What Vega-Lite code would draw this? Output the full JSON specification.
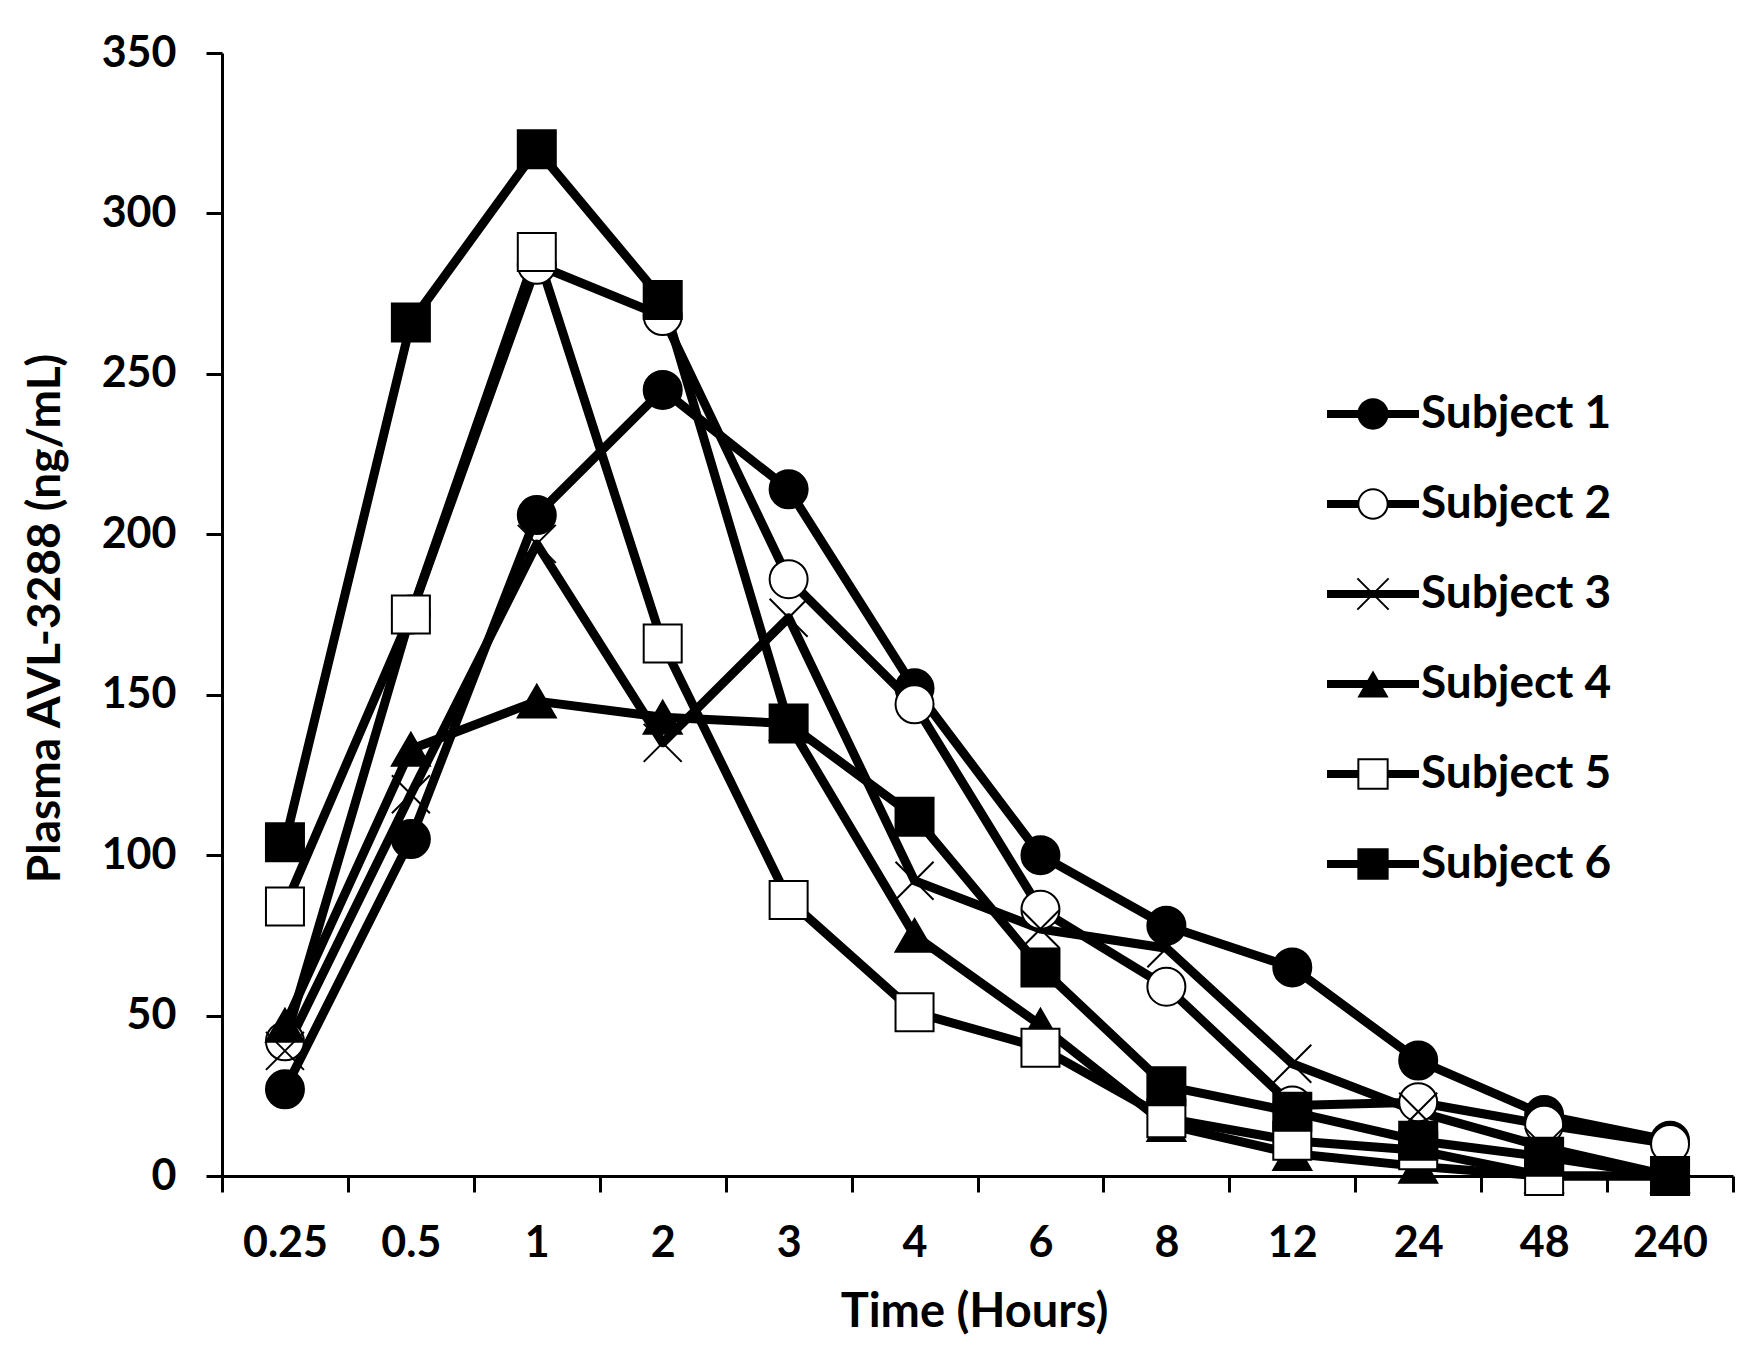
{
  "$schema": "https://vega.github.io/schema/vega-lite/v6.json",
  "width": 1511,
  "height": 1123,
  "autosize": {"type": "none"},
  "padding": {"left": 222, "top": 53, "right": 22, "bottom": 177},
  "background": "white",
  "config": {
    "view": {"stroke": null},
    "font": "Lato",
    "axis": {
      "grid": false,
      "domainColor": "black",
      "domainWidth": 3,
      "tickColor": "black",
      "tickWidth": 3,
      "tickSize": 16,
      "labelColor": "black",
      "labelFont": "Lato",
      "labelFontWeight": "bold",
      "labelFontSize": 43,
      "titleColor": "black",
      "titleFont": "Lato",
      "titleFontWeight": "bold"
    }
  },
  "data": {
    "values": [
      {"s": "Subject 1", "h": 0.25, "v": 27}, {"s": "Subject 1", "h": 0.5, "v": 105}, {"s": "Subject 1", "h": 1, "v": 206}, {"s": "Subject 1", "h": 2, "v": 245}, {"s": "Subject 1", "h": 3, "v": 214}, {"s": "Subject 1", "h": 4, "v": 152}, {"s": "Subject 1", "h": 6, "v": 100}, {"s": "Subject 1", "h": 8, "v": 78}, {"s": "Subject 1", "h": 12, "v": 65}, {"s": "Subject 1", "h": 24, "v": 36}, {"s": "Subject 1", "h": 48, "v": 19}, {"s": "Subject 1", "h": 240, "v": 11},
      {"s": "Subject 2", "h": 0.25, "v": 42}, {"s": "Subject 2", "h": 0.5, "v": 175}, {"s": "Subject 2", "h": 1, "v": 284}, {"s": "Subject 2", "h": 2, "v": 268}, {"s": "Subject 2", "h": 3, "v": 186}, {"s": "Subject 2", "h": 4, "v": 147}, {"s": "Subject 2", "h": 6, "v": 83}, {"s": "Subject 2", "h": 8, "v": 59}, {"s": "Subject 2", "h": 12, "v": 22}, {"s": "Subject 2", "h": 24, "v": 23}, {"s": "Subject 2", "h": 48, "v": 16}, {"s": "Subject 2", "h": 240, "v": 10},
      {"s": "Subject 3", "h": 0.25, "v": 39}, {"s": "Subject 3", "h": 0.5, "v": 119}, {"s": "Subject 3", "h": 1, "v": 197}, {"s": "Subject 3", "h": 2, "v": 135}, {"s": "Subject 3", "h": 3, "v": 174}, {"s": "Subject 3", "h": 4, "v": 92}, {"s": "Subject 3", "h": 6, "v": 77}, {"s": "Subject 3", "h": 8, "v": 71}, {"s": "Subject 3", "h": 12, "v": 35}, {"s": "Subject 3", "h": 24, "v": 20}, {"s": "Subject 3", "h": 48, "v": 9}, {"s": "Subject 3", "h": 240, "v": 0},
      {"s": "Subject 4", "h": 0.25, "v": 47}, {"s": "Subject 4", "h": 0.5, "v": 133}, {"s": "Subject 4", "h": 1, "v": 148}, {"s": "Subject 4", "h": 2, "v": 143}, {"s": "Subject 4", "h": 3, "v": 141}, {"s": "Subject 4", "h": 4, "v": 75}, {"s": "Subject 4", "h": 6, "v": 47}, {"s": "Subject 4", "h": 8, "v": 16}, {"s": "Subject 4", "h": 12, "v": 7}, {"s": "Subject 4", "h": 24, "v": 3}, {"s": "Subject 4", "h": 48, "v": 0}, {"s": "Subject 4", "h": 240, "v": 0},
      {"s": "Subject 5", "h": 0.25, "v": 84}, {"s": "Subject 5", "h": 0.5, "v": 175}, {"s": "Subject 5", "h": 1, "v": 288}, {"s": "Subject 5", "h": 2, "v": 166}, {"s": "Subject 5", "h": 3, "v": 86}, {"s": "Subject 5", "h": 4, "v": 51}, {"s": "Subject 5", "h": 6, "v": 40}, {"s": "Subject 5", "h": 8, "v": 18}, {"s": "Subject 5", "h": 12, "v": 11}, {"s": "Subject 5", "h": 24, "v": 8}, {"s": "Subject 5", "h": 48, "v": 0}, {"s": "Subject 5", "h": 240, "v": 0},
      {"s": "Subject 6", "h": 0.25, "v": 104}, {"s": "Subject 6", "h": 0.5, "v": 266}, {"s": "Subject 6", "h": 1, "v": 320}, {"s": "Subject 6", "h": 2, "v": 273}, {"s": "Subject 6", "h": 3, "v": 141}, {"s": "Subject 6", "h": 4, "v": 112}, {"s": "Subject 6", "h": 6, "v": 65}, {"s": "Subject 6", "h": 8, "v": 28}, {"s": "Subject 6", "h": 12, "v": 20}, {"s": "Subject 6", "h": 24, "v": 11}, {"s": "Subject 6", "h": 48, "v": 6}, {"s": "Subject 6", "h": 240, "v": 0}
    ]
  },
  "encoding": {
    "x": {
      "field": "h",
      "type": "ordinal",
      "scale": {"type": "band", "paddingInner": 0, "paddingOuter": 0},
      "axis": {
        "title": "Time (Hours)",
        "tickBand": "extent",
        "labelAngle": 0,
        "labelPadding": 30,
        "titleFontSize": 47,
        "titleX": 752,
        "titleY": 136,
        "titleBaseline": "middle",
        "titleAlign": "center"
      }
    },
    "y": {
      "field": "v",
      "type": "quantitative",
      "scale": {"domain": [0, 350], "nice": false},
      "axis": {
        "title": "Plasma AVL-3288 (ng/mL)",
        "values": [0, 50, 100, 150, 200, 250, 300, 350],
        "labelPadding": 30,
        "titleFontSize": 46,
        "titleX": -177,
        "titleY": 565,
        "titleAngle": -90,
        "titleAlign": "center",
        "titleBaseline": "middle"
      }
    }
  },
  "layer": [
    {
      "mark": {"type": "line", "stroke": "black", "strokeWidth": 9, "strokeJoin": "round", "strokeCap": "round"},
      "encoding": {"detail": {"field": "s", "type": "nominal"}}
    },
    {
      "mark": {"type": "point", "filled": true, "stroke": "black", "strokeWidth": 2, "size": 1444, "opacity": 1},
      "encoding": {
        "shape": {
          "field": "s",
          "type": "nominal",
          "scale": {"range": ["circle", "circle", "M-1,-1L1,1M-1,1L1,-1", "triangle-up", "square", "square"]},
          "legend": null
        },
        "fill": {
          "field": "s",
          "type": "nominal",
          "scale": {"range": ["black", "white", "black", "black", "white", "black"]},
          "legend": null
        }
      }
    },
    {
      "mark": {"type": "point", "filled": true, "fill": "black", "size": 8464, "opacity": 0},
      "encoding": {
        "shape": {
          "field": "s",
          "type": "nominal",
          "scale": {"range": [
            "M-1,-0.087L1,-0.087L1,0.087L-1,0.087ZM0.34,0A0.34,0.34,0,1,1,-0.34,0A0.34,0.34,0,1,1,0.34,0Z",
            "M-1,-0.087L-0.33,-0.087L-0.33,0.087L-1,0.087ZM0.33,-0.087L1,-0.087L1,0.087L0.33,0.087ZM0.34,0A0.34,0.34,0,1,1,-0.34,0A0.34,0.34,0,1,1,0.34,0ZM0.297,0A0.297,0.297,0,1,0,-0.297,0A0.297,0.297,0,1,0,0.297,0Z",
            "M-1,-0.087L1,-0.087L1,0.087L-1,0.087ZM-0.3246,-0.3554L0.3554,0.3246L0.3246,0.3554L-0.3554,-0.3246ZM-0.3246,0.3554L-0.3554,0.3246L0.3246,-0.3554L0.3554,-0.3246Z",
            "M-1,-0.087L1,-0.087L1,0.087L-1,0.087ZM0,-0.295L0.34,0.295L-0.34,0.295Z",
            "M-1,-0.087L-0.33,-0.087L-0.33,0.087L-1,0.087ZM0.33,-0.087L1,-0.087L1,0.087L0.33,0.087ZM-0.34,-0.34L0.34,-0.34L0.34,0.34L-0.34,0.34ZM-0.297,-0.297L-0.297,0.297L0.297,0.297L0.297,-0.297Z",
            "M-1,-0.087L1,-0.087L1,0.087L-1,0.087ZM-0.34,-0.34L0.34,-0.34L0.34,0.34L-0.34,0.34Z"
          ]},
          "legend": {
            "title": null,
            "orient": "none",
            "legendX": 1105,
            "legendY": 315,
            "padding": 0,
            "symbolSize": 8464,
            "symbolStrokeWidth": 0,
            "symbolFillColor": "black",
            "symbolOpacity": 1,
            "labelFont": "Lato",
            "labelFontSize": 46,
            "labelFontWeight": "bold",
            "labelColor": "black",
            "labelOffset": 2,
            "labelLimit": 0,
            "rowPadding": 21
          }
        }
      }
    }
  ],
  "resolve": {
    "scale": {"shape": "independent", "fill": "independent"},
    "legend": {"shape": "independent", "fill": "independent"}
  }
}
